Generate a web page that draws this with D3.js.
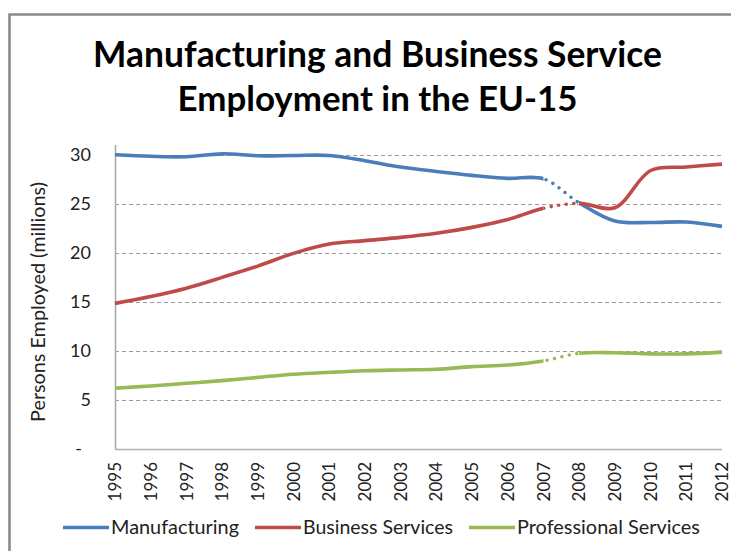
<!DOCTYPE html>
<html>
<head>
<meta charset="utf-8">
<script src="https://cdn.jsdelivr.net/npm/d3@7"></script>
<style>
  html, body { margin: 0; padding: 0; background: #fff; }
  svg { display: block; font-family: Lato, "Open Sans", sans-serif; }
</style>
</head>
<body>
<svg id="chart" width="731" height="551"></svg>
<script>
// Employment in the EU-15, millions of persons
const years = [1995, 1996, 1997, 1998, 1999, 2000, 2001, 2002, 2003, 2004, 2005, 2006, 2007, 2008, 2009, 2010, 2011, 2012];
const manufacturing = [30.0, 29.85, 29.8, 30.1, 29.9, 29.93, 29.93, 29.4, 28.75, 28.3, 27.9, 27.6, 27.55, 25.1, 23.25, 23.1, 23.15, 22.7];
const businessServices = [14.85, 15.55, 16.4, 17.5, 18.65, 19.95, 20.9, 21.25, 21.58, 22.0, 22.6, 23.4, 24.55, 25.05, 24.6, 28.4, 28.75, 29.05];
const professionalServices = [6.2, 6.43, 6.7, 6.97, 7.3, 7.63, 7.82, 7.98, 8.06, 8.13, 8.4, 8.57, 8.98, 9.76, 9.82, 9.7, 9.7, 9.88];
const seriesNames = ["Manufacturing", "Business Services", "Professional Services"];
const seriesColors = ["#4a7ebb", "#be4b48", "#98b954"];
const yTicks = [0, 5, 10, 15, 20, 25, 30];
// years between which the series are joined by a dotted bridge
const bridge = [2007, 2008];

const titleLines = ["Manufacturing and Business Service", "Employment in the EU-15"];
const yTitle = "Persons Employed (millions)";

const svg = d3.select("#chart");

// outer frame
svg.append("path")
  .attr("d", "M9.5,560 V14.5 H740")
  .attr("fill", "none")
  .attr("stroke", "#8a8a8a")
  .attr("stroke-width", 2.6);

// shrink/grow a text's font so its rendered width matches a target width
function fitWidth(sel, target) {
  const node = sel.node();
  const fs = parseFloat(sel.attr("font-size"));
  const w = node.getComputedTextLength();
  if (w > 0) sel.attr("font-size", (fs * target / w).toFixed(2));
}

// title
const titleWidths = [569, 400];
const titleBase = [67, 111];
titleLines.forEach((t, i) => {
  const txt = svg.append("text")
    .attr("x", 377.5)
    .attr("y", titleBase[i])
    .attr("text-anchor", "middle")
    .attr("font-size", 32)
    .attr("font-weight", "bold")
    .attr("fill", "#000")
    .text(t);
  fitWidth(txt, titleWidths[i]);
});

const x = d3.scalePoint().domain(years).range([115, 722]);
const y = d3.scaleLinear().domain([0, 31]).range([449, 145]);

// dashed horizontal gridlines
svg.append("g")
  .selectAll("line")
  .data(yTicks.filter(v => v > 0))
  .join("line")
  .attr("x1", 115).attr("x2", 722)
  .attr("y1", d => Math.round(y(d)) + 0.5)
  .attr("y2", d => Math.round(y(d)) + 0.5)
  .attr("stroke", "#9a9a9a")
  .attr("stroke-width", 1)
  .attr("stroke-dasharray", "4 3");

// y axis (labels only, 0 shown as a dash)
const yAxis = d3.axisLeft(y)
  .tickValues(yTicks)
  .tickSize(0)
  .tickPadding(0)
  .tickFormat(d => d === 0 ? "-" : d3.format("d")(d));
const gy = svg.append("g").attr("transform", "translate(91,0)").call(yAxis);
gy.select(".domain").remove();
gy.selectAll("text")
  .attr("font-size", 18)
  .attr("font-family", "Lato, sans-serif")
  .attr("fill", "#222")
  .attr("dx", d => d === 0 ? -9 : 0);

// axis lines
svg.append("line")
  .attr("x1", 115.5).attr("x2", 115.5)
  .attr("y1", y(31)).attr("y2", 449.5)
  .attr("stroke", "#a6a6a6").attr("stroke-width", 1.5);
svg.append("line")
  .attr("x1", 115).attr("x2", 722)
  .attr("y1", 449.5).attr("y2", 449.5)
  .attr("stroke", "#b0b0b0").attr("stroke-width", 1.5);

// x axis year labels, rotated so they read bottom to top
const xAxis = d3.axisBottom(x).tickSize(0).tickPadding(0).tickFormat(d3.format("d"));
const gx = svg.append("g").attr("transform", "translate(0,462)").call(xAxis);
gx.select(".domain").remove();
gx.selectAll("text")
  .attr("font-size", 17)
  .attr("font-family", "Lato, sans-serif")
  .attr("fill", "#222")
  .attr("text-anchor", "end")
  .attr("x", 0)
  .attr("y", 0)
  .attr("dy", "0.33em")
  .attr("transform", "rotate(-90)");

// y axis title
const yt = svg.append("text")
  .attr("transform", "translate(38,302) rotate(-90)")
  .attr("text-anchor", "middle")
  .attr("dy", "0.35em")
  .attr("font-size", 18)
  .attr("fill", "#222")
  .text(yTitle);
fitWidth(yt, 240);

// clip regions: solid everywhere except the bridge, dotted only on the bridge
const defs = svg.append("defs");
const solidClip = defs.append("clipPath").attr("id", "solidClip");
solidClip.append("rect").attr("x", 0).attr("y", 0).attr("width", x(bridge[0])).attr("height", 551);
solidClip.append("rect").attr("x", x(bridge[1])).attr("y", 0).attr("width", 731 - x(bridge[1])).attr("height", 551);
defs.append("clipPath").attr("id", "dotClip")
  .append("rect").attr("x", x(bridge[0])).attr("y", 0)
  .attr("width", x(bridge[1]) - x(bridge[0])).attr("height", 551);

const series = [manufacturing, businessServices, professionalServices];
const line = d3.line()
  .x((d, i) => x(years[i]))
  .y(d => y(d))
  .curve(d3.curveCatmullRom.alpha(0.5));

const gLines = svg.append("g");
series.forEach((vals, k) => {
  gLines.append("path")
    .attr("d", line(vals))
    .attr("fill", "none")
    .attr("stroke", seriesColors[k])
    .attr("stroke-width", 3.6)
    .attr("stroke-linejoin", "round")
    .attr("clip-path", "url(#solidClip)");
  gLines.append("path")
    .attr("d", line(vals))
    .attr("fill", "none")
    .attr("stroke", seriesColors[k])
    .attr("stroke-width", 3.6)
    .attr("stroke-linecap", "round")
    .attr("stroke-dasharray", "0 7.6")
    .attr("clip-path", "url(#dotClip)");
});

// legend
const legendX = [63, 255, 469];
const legendTextW = [128, 150, 183];
const legend = svg.append("g");
seriesNames.forEach((name, k) => {
  legend.append("line")
    .attr("x1", legendX[k]).attr("x2", legendX[k] + 46)
    .attr("y1", 527.5).attr("y2", 527.5)
    .attr("stroke", seriesColors[k])
    .attr("stroke-width", 3.6);
  const t = legend.append("text")
    .attr("x", legendX[k] + 48)
    .attr("y", 527.5)
    .attr("dy", "0.35em")
    .attr("font-size", 18)
    .attr("fill", "#222")
    .text(name);
  fitWidth(t, legendTextW[k]);
});
</script>
</body>
</html>
